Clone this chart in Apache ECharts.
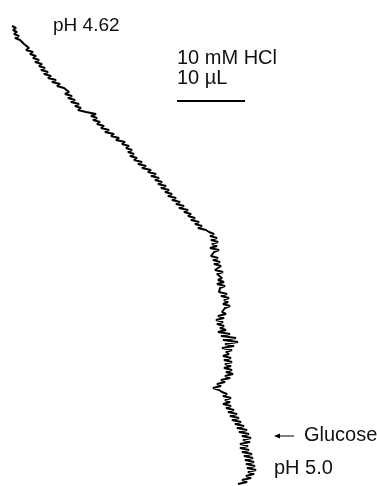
<!DOCTYPE html>
<html><head><meta charset="utf-8">
<script src="https://cdn.jsdelivr.net/npm/echarts@6/dist/echarts.min.js"></script>
<style>html,body{margin:0;padding:0;background:#fff;}#c{width:377px;height:486px;}</style>
</head><body><div id="c"></div>
<script>
// time (downward, arbitrary units) and pH-signal trace (horizontal, arbitrary units)
const time = [
 26,28,30,32,34,36,38,40,42,44,
 46,48,50,52,54,56,58,60,62,64,
 66,68,70,72,74,76,78,80,82,84,
 86,88,90,92,94,96,98,100,102,104,
 106,108,110,112,113,114,116,118,120,122,
 124,126,128,130,132,134,136,138,140,142,
 144,146,148,150,152,154,156,158,160,162,
 164,166,168,170,172,174,176,178,180,182,
 184,186,188,190,192,194,196,198,200,202,
 204,206,208,210,212,214,216,218,220,222,
 224,226,228,230,232,234,236,238,240,242,
 244,246,248,250,252,254,256,258,260,262,
 264,266,268,270,272,274,276,278,280,282,
 284,286,288,290,292,294,296,298,300,302,
 304,306,308,310,312,314,316,318,320,322,
 324,326,328,330,332,334,336,338,340,342,
 344,346,348,350,352,354,356,358,360,362,
 364,366,368,370,372,374,376,378,380,382,
 384,386,388,390,392,394,396,398,400,402,
 404,406,408,410,412,414,416,418,420,422,
 424,426,428,430,432,434,436,438,440,442,
 444,446,448,450,452,454,456,458,460,462,
 464,466,468,470,472,474,476,478,480,482,
 484
];
const signal = [
 12,16,13,17,14,19,15,20,19,24,
 23,29,26,33,30,36,33,39,35,42,
 39,45,41,48,44,51,48,56,52,60,
 57,64,62,69,65,72,68,75,71,79,
 75,81,78,86,91,96,91,97,93,100,
 97,104,101,109,105,114,111,119,116,125,
 122,129,126,132,128,134,130,137,134,142,
 138,146,142,151,148,156,151,159,155,162,
 158,166,161,169,165,172,168,176,172,180,
 176,184,179,188,184,191,188,195,191,199,
 195,202,198,206,209,214,210,217,211,218,
 212,217,210,219,214,216,211,218,213,220,
 214,221,219,215,223,217,216,222,218,224,
 217,225,220,222,219,227,221,229,224,228,
 223,230,225,227,222,226,218,224,216,223,
 217,224,220,226,218,230,221,236,223,238,
 225,234,222,232,226,229,223,231,224,232,
 225,231,224,232,226,233,225,230,221,225,
 217,221,213,219,222,227,223,231,225,230,
 223,231,226,234,228,237,230,239,232,241,
 235,244,237,247,239,249,242,251,243,250,
 240,248,240,249,242,252,244,253,245,254,
 246,255,247,256,248,254,246,251,242,247,
 238
];
const labels = {start: 'pH 4.62', end: 'pH 5.0', scaleA: '10 mM HCl', scaleB: '10 µL', event: 'Glucose'};

const chart = echarts.init(document.getElementById('c'), null, {renderer: 'canvas'});
const data = time.map((t, i) => [signal[i], t]);
const font = '"Liberation Sans", Arial, sans-serif';
const txt = (s, x, y, size) => ({type: 'text', silent: true, style: {text: s, x: x, y: y, fill: '#111', font: size + 'px ' + font, verticalAlign: 'middle', align: 'left'}});
chart.setOption({
  animation: false,
  backgroundColor: '#fff',
  grid: {left: 0, right: 0, top: 0, bottom: 0},
  xAxis: {type: 'value', min: 0, max: 377, show: false},
  yAxis: {type: 'value', min: 0, max: 486, inverse: true, show: false},
  series: [{type: 'line', data: data, showSymbol: false, lineStyle: {color: '#000', width: 2}, z: 2}],
  graphic: [
    txt(labels.start, 53, 26, 19),
    txt(labels.scaleA, 177, 58, 20),
    txt(labels.scaleB, 177, 78, 20),
    {type: 'line', silent: true, shape: {x1: 177, y1: 101, x2: 245, y2: 101}, style: {stroke: '#000', lineWidth: 2}},
    {type: 'line', silent: true, shape: {x1: 276, y1: 436, x2: 294, y2: 436}, style: {stroke: '#000', lineWidth: 1}},
    {type: 'polygon', silent: true, shape: {points: [[274, 436], [280, 433.5], [280, 438.5]]}, style: {fill: '#000'}},
    txt(labels.event, 304, 435, 20),
    txt(labels.end, 274, 468, 20)
  ]
});
</script></body></html>
